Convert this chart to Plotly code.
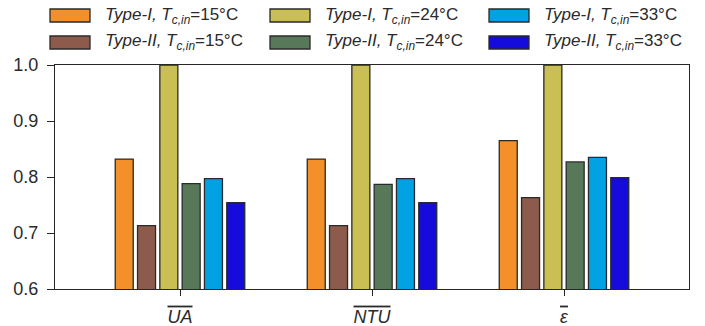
import plotly.graph_objects as go

categories = ["UA", "NTU", "eps"]
tick_labels = [
    "<i><span style='text-decoration:overline'>UA</span></i>",
    "<i><span style='text-decoration:overline'>NTU</span></i>",
    "<i><span style='text-decoration:overline'>ε</span></i>",
]

series_names = [
    "<i>Type-I, T<sub>c,in</sub></i>=15°C",
    "<i>Type-II, T<sub>c,in</sub></i>=15°C",
    "<i>Type-I, T<sub>c,in</sub></i>=24°C",
    "<i>Type-II, T<sub>c,in</sub></i>=24°C",
    "<i>Type-I, T<sub>c,in</sub></i>=33°C",
    "<i>Type-II, T<sub>c,in</sub></i>=33°C",
]
typeI_15 = [0.832, 0.832, 0.865]
typeII_15 = [0.713, 0.713, 0.763]
typeI_24 = [1.0, 1.0, 1.0]
typeII_24 = [0.788, 0.787, 0.827]
typeI_33 = [0.797, 0.797, 0.835]
typeII_33 = [0.754, 0.754, 0.799]
series_values = [typeI_15, typeII_15, typeI_24, typeII_24, typeI_33, typeII_33]
colors = ["#F39029", "#8D5B4C", "#C9BF52", "#58785A", "#01A2E4", "#150BDB"]

fig = go.Figure()
for name, vals, col in zip(series_names, series_values, colors):
    fig.add_trace(go.Bar(
        x=categories, y=vals, name=name, showlegend=False,
        marker=dict(color=col, line=dict(color="#2a2a2a", width=1.3)),
    ))

# manual legend (3 columns x 2 rows), order: Type-I row, Type-II row
L, R, T, B = 55, 16, 65, 37
W, H = 705, 326
pw, ph = W - L - R, H - T - B
def px2x(px):
    return (px - L) / pw
def py2y(py):
    return (H - B - py) / ph

col_x = [50, 270, 489]
row_y = [15.5, 42.5]
shapes = []
annotations = []
for i, (name, col) in enumerate(zip(series_names, colors)):
    c = i // 2
    r = i % 2
    x0 = col_x[c]
    yc = row_y[r]
    shapes.append(dict(type="rect", xref="paper", yref="paper",
                       x0=px2x(x0), x1=px2x(x0 + 40), y0=py2y(yc - 6.5), y1=py2y(yc + 6.5),
                       fillcolor=col, line=dict(color="#2a2a2a", width=1.3)))
    annotations.append(dict(xref="paper", yref="paper", x=px2x(x0 + 53), y=py2y(yc),
                            xanchor="left", yanchor="middle", showarrow=False, text=name,
                            font=dict(size=17, color="#2a2a2a", family="Liberation Sans, Arial, sans-serif")))

fig.update_layout(
    width=W, height=H,
    margin=dict(l=L, r=R, t=T, b=B, autoexpand=False),
    paper_bgcolor="white", plot_bgcolor="white",
    barmode="group", bargap=0.303, bargroupgap=0.193,
    font=dict(family="Liberation Sans, Arial, sans-serif", size=18, color="#2a2a2a"),
    shapes=shapes, annotations=annotations,
    xaxis=dict(
        range=[-0.651, 2.651], tickmode="array", tickvals=categories, ticktext=tick_labels,
        showline=True, linecolor="#262626", linewidth=1, mirror=True,
        ticks="outside", ticklen=6, tickcolor="#262626", showgrid=False,
        ticklabelstandoff=5, automargin=False,
    ),
    yaxis=dict(
        range=[0.6, 1.0], tickmode="array", tickvals=[0.6, 0.7, 0.8, 0.9, 1.0],
        ticktext=["0.6", "0.7", "0.8", "0.9", "1.0"],
        showline=True, linecolor="#262626", linewidth=1, mirror=True,
        ticks="outside", ticklen=7, tickcolor="#262626", showgrid=False, zeroline=False,
        ticklabelstandoff=5, automargin=False,
    ),
)
fig.write_html("out.html", config={"displayModeBar": False},
               post_script="document.body.style.margin='0';document.body.style.overflow='hidden';")
